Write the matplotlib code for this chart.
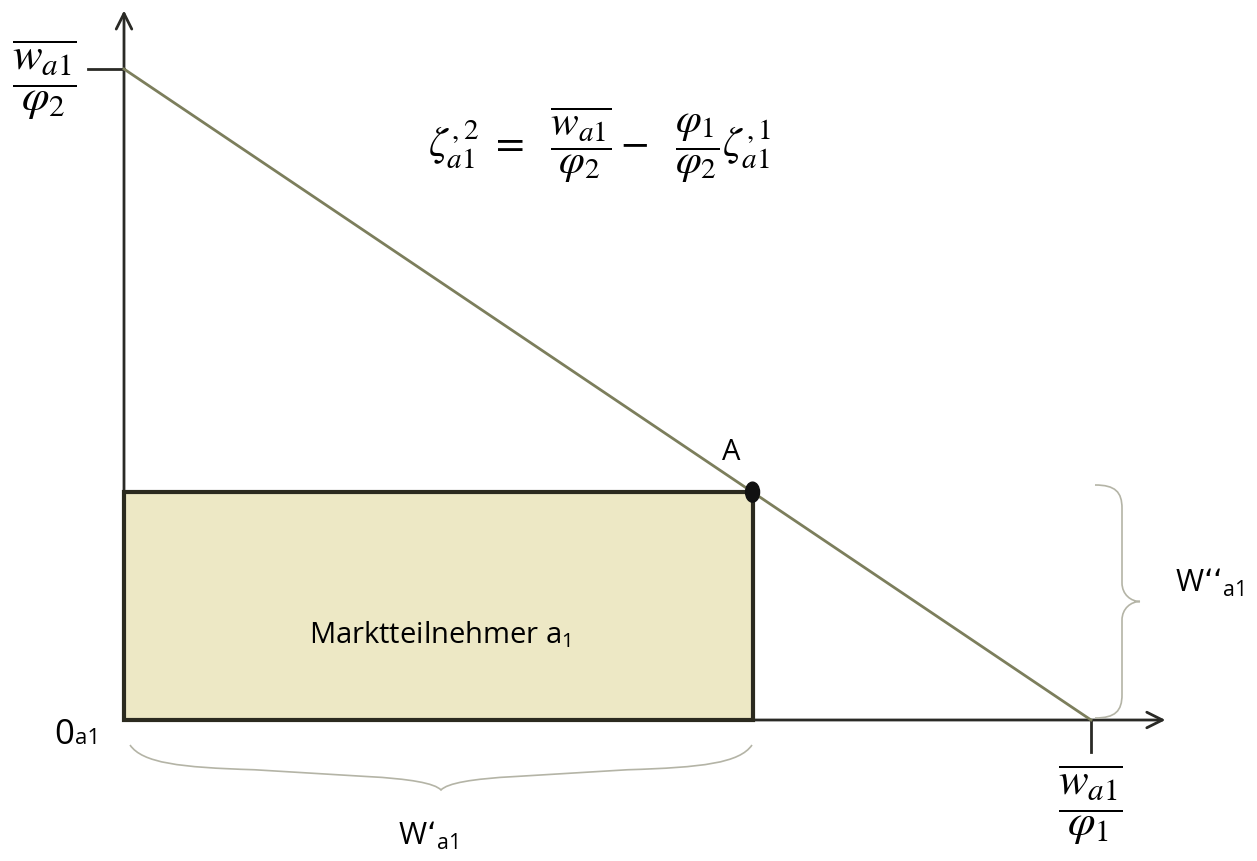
import matplotlib.pyplot as plt
from matplotlib.patches import Rectangle, Ellipse, PathPatch
from matplotlib.path import Path

# Werte der Budgetgeraden (Achsenabschnitte w/phi1 und w/phi2)
budget_x = [0.0, 10.0]
budget_y = [10.0, 0.0]
# Punkt A auf der Budgetgeraden
punkt_a = (6.5, 3.5)
# Achsenlängen (Pfeilspitzen)
achse_x_max = 10.77
achse_y_max = 10.9

linie_farbe = '#7c7e5c'
achsen_farbe = '#2a2a26'
klammer_farbe = '#b4b4a6'
flaeche_farbe = '#ede8c5'


def px(x):
    # Pixel -> Datenkoordinaten (nur für Beschriftungen)
    return (x - 124) / 96.7


def py(y):
    return (720 - y) / 65.1


def klammer(ax, start, ende, tiefe, vertikal, pts):
    # geschweifte Klammer als Bezier-Pfad, u entlang, v quer
    codes = [Path.MOVETO, Path.CURVE4, Path.CURVE4, Path.CURVE4,
             Path.LINETO,
             Path.CURVE4, Path.CURVE4, Path.CURVE4,
             Path.CURVE4, Path.CURVE4, Path.CURVE4,
             Path.LINETO,
             Path.CURVE4, Path.CURVE4, Path.CURVE4]
    verts = []
    for u, v in pts:
        if vertikal:
            verts.append((start[0] + v * tiefe, start[1] + u * (ende[1] - start[1])))
        else:
            verts.append((start[0] + u * (ende[0] - start[0]), start[1] + v * tiefe))
    ax.add_patch(PathPatch(Path(verts, codes), fill=False,
                           edgecolor=klammer_farbe, lw=1.2))


form_rechts = [(0, 0), (0.0, 0.45), (0.03, 0.6), (0.1, 0.6),
               (0.42, 0.6),
               (0.47, 0.6), (0.5, 0.8), (0.5, 1.0),
               (0.5, 0.8), (0.53, 0.6), (0.58, 0.6),
               (0.9, 0.6),
               (0.97, 0.6), (1.0, 0.45), (1.0, 0.0)]
form_unten = [(0, 0), (0.02, 0.4), (0.08, 0.5), (0.2, 0.55),
              (0.38, 0.7),
              (0.45, 0.75), (0.49, 0.85), (0.5, 1.0),
              (0.51, 0.85), (0.55, 0.75), (0.62, 0.7),
              (0.8, 0.55),
              (0.92, 0.5), (0.98, 0.4), (1.0, 0.0)]

fig = plt.figure(figsize=(12.57, 8.61), dpi=100)
ax = fig.add_axes([0, 0, 1, 1])
ax.set_xlim(px(0), px(1257))
ax.set_ylim(py(861), py(0))
ax.axis('off')

# Fläche Marktteilnehmer
ax.add_patch(Rectangle((0, 0), punkt_a[0], punkt_a[1], facecolor=flaeche_farbe,
                       edgecolor='#2b2a1f', lw=3, zorder=2))

# Achsen mit Pfeilen
pfeil = dict(arrowstyle='->', lw=2, color=achsen_farbe, mutation_scale=28,
             shrinkA=0, shrinkB=0)
ax.annotate('', xy=(0, achse_y_max), xytext=(0, 0), arrowprops=pfeil, zorder=1)
ax.annotate('', xy=(achse_x_max, 0), xytext=(0, 0), arrowprops=pfeil, zorder=1)

# Achsenmarken
ax.plot([px(88), 0], [budget_y[0], budget_y[0]], color=achsen_farbe, lw=2)
ax.plot([budget_x[1], budget_x[1]], [0, py(752)], color=achsen_farbe, lw=2)

# Budgetgerade
ax.plot(budget_x, budget_y, color=linie_farbe, lw=2, zorder=3)

# Punkt A
ax.add_patch(Ellipse(punkt_a, 14 / 96.7, 20 / 65.1, color='#111111', zorder=4))
ax.text(px(731), py(452), 'A', fontsize=21, family='Open Sans',
        ha='center', va='center')

# Klammern
klammer(ax, (px(1095), py(718)), (px(1095), py(485)), px(1140) - px(1095), True,
        form_rechts)
klammer(ax, (px(130), py(745)), (px(752), py(745)), py(790) - py(745), False,
        form_unten)

# Beschriftungen
ax.text(px(44), py(80), r'$\dfrac{\overline{w_{a1}}}{\varphi_2}$', fontsize=32,
        math_fontfamily='stix', ha='center', va='center')
ax.text(px(1090), py(805), r'$\dfrac{\overline{w_{a1}}}{\varphi_1}$', fontsize=32,
        math_fontfamily='stix', ha='center', va='center')
ax.text(px(600), py(145),
        r'$\zeta_{a1}^{,2}\ =\ \ \dfrac{\overline{w_{a1}}}{\varphi_2}-\ \ '
        r'\dfrac{\varphi_1}{\varphi_2}\zeta_{a1}^{,1}$',
        fontsize=30, math_fontfamily='stix', ha='center', va='center')

ax.text(px(440), py(635), r'Marktteilnehmer a$_{\mathregular{1}}$', fontsize=21,
        family='Open Sans', ha='center', va='center')

ax.text(px(74), py(744), '0', fontsize=25, family='Open Sans', ha='right', va='baseline')
ax.text(px(75), py(744), 'a1', fontsize=16, family='Open Sans', ha='left', va='baseline')

ax.text(px(398), py(845), r'W‘$_{\mathregular{a1}}$', fontsize=22,
        family='Open Sans', ha='left', va='baseline')
ax.text(px(1175), py(592), r'W‘‘$_{\mathregular{a1}}$', fontsize=22,
        family='Open Sans', ha='left', va='baseline')

fig.savefig('out.png', dpi=100, facecolor='white')
